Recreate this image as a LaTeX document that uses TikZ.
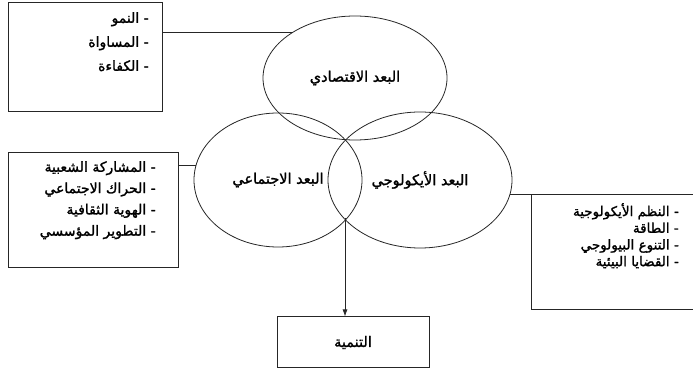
\documentclass[tikz,border=0pt]{standalone}
\usepackage{fontspec}
\newfontfamily\arabicfont[Script=Arabic,FakeBold=1.5]{DejaVu Sans}
\TeXXeTstate=1
\usetikzlibrary{shapes.geometric,arrows.meta}
\newcommand\AR[1]{{\arabicfont\beginR #1\endR}}
\begin{document}
\begin{tikzpicture}[x=1pt,y=1pt,
  ell/.style={ellipse,draw=black!85,line width=0.8pt,inner sep=0pt,font=\fontsize{14.5}{16}\selectfont},
  boxnode/.style={rectangle,draw=black!85,line width=1pt,inner sep=0pt},
  listtext/.style={align=right,inner sep=0pt,anchor=north east},
  conn/.style={draw=black!85,line width=0.8pt}]
\useasboundingbox (0,0) rectangle (693,377);
% ellipses
\node[ell,minimum width=184,minimum height=124] (econ) at (355,299) {\AR{البعد الاقتصادي}};
\node[ell,minimum width=168,minimum height=134] (soc) at (278,197) {\AR{البعد الاجتماعي}};
\node[ell,minimum width=184,minimum height=136] (eco) at (420,197) {\AR{البعد الأيكولوجي}};
% boxes
\node[boxnode,minimum width=154,minimum height=109] (tlbox) at (85,319.5) {};
\node[boxnode,minimum width=170,minimum height=115] (lbox) at (93,166.5) {};
\node[boxnode,minimum width=189,minimum height=115] (rbox) at (625.5,124.5) {};
\node[boxnode,minimum width=152,minimum height=51,font=\fontsize{14.5}{16}\selectfont] (dev) at (353,34.5) {\AR{التنمية}};
% list texts
\node[listtext,font=\fontsize{14}{24}\selectfont] (tltext) at (149,365) {\AR{- النمو}\\ \AR{- المساواة}\\ \AR{- الكفاءة}};
\node[listtext,font=\fontsize{14}{21.3}\selectfont] (ltext) at (156,216) {\AR{- المشاركة الشعبية}\\ \AR{- الحراك الاجتماعي}\\ \AR{- الهوية الثقافية}\\ \AR{- التطوير المؤسسي}};
\node[listtext,font=\fontsize{13.5}{16.7}\selectfont] (rtext) at (679,174) {\AR{- النظم الأيكولوجية}\\ \AR{- الطاقة}\\ \AR{- التنوع البيولوجي}\\ \AR{- القضايا البيئية}};
% connectors
\draw[conn] (econ.144.6) -- (econ.144.6 -| tlbox.east);
\draw[conn] (soc.170) -- (soc.170 -| lbox.east);
\draw[conn] (eco.-9.5) -- (eco.-9.5 -| rbox.west);
\coordinate (meet) at (345,159);
\draw[conn,-{Latex[length=7pt,width=5pt]}] (meet) -- (meet |- dev.north);
\end{tikzpicture}
\end{document}
